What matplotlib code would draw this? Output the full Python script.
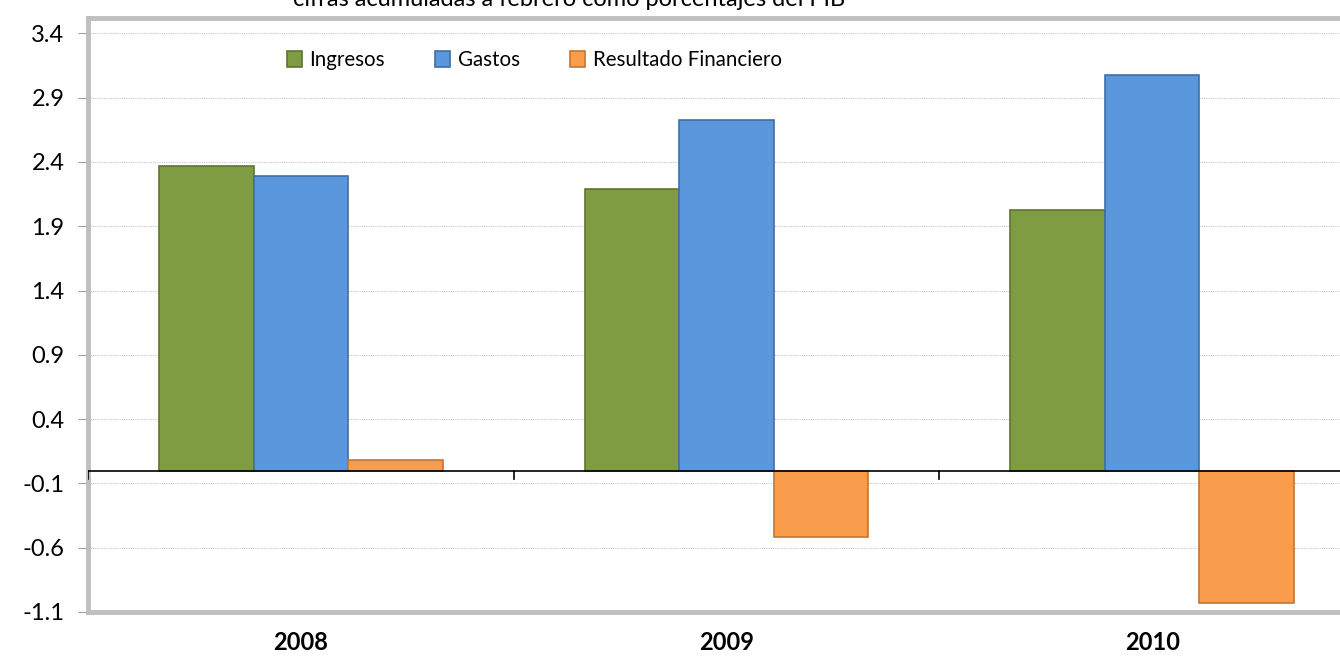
import matplotlib
matplotlib.use("Agg")
import matplotlib.pyplot as plt
import numpy as np

years = ["2008", "2009", "2010"]
ingresos = [2.37, 2.19, 2.03]
gastos = [2.29, 2.73, 3.08]
resultado = [0.08, -0.52, -1.03]
yticks = [-1.1, -0.6, -0.1, 0.4, 0.9, 1.4, 1.9, 2.4, 2.9, 3.4]

plt.rcParams["font.family"] = ["Lato", "DejaVu Sans"]

fig = plt.figure(figsize=(13.4, 6.66), dpi=100)
ax = fig.add_axes([88 / 1340, 1 - 612 / 666, 1277 / 1340, (612 - 18) / 666])

x = np.arange(len(years))
w = 0.222
series = [
    (ingresos, "Ingresos", "#7F9C42", "#5E7530"),
    (gastos, "Gastos", "#5B97DD", "#3F6FA8"),
    (resultado, "Resultado Financiero", "#F99C4B", "#C8742E"),
]
for i, (vals, name, col, edge) in enumerate(series):
    ax.bar(x + (i - 1) * w, vals, width=w, color=col, edgecolor=edge,
           linewidth=1.2, label=name, zorder=3)

ax.set_xlim(-0.5, 2.5)
ax.set_ylim(-1.1, 3.52)
ax.set_yticks(yticks)
ax.set_yticklabels([f"{v:.1f}" for v in yticks], fontsize=17)
ax.grid(axis="y", color="#C8C8C8", linestyle=(0, (1, 1)), linewidth=0.8, zorder=0)
ax.tick_params(axis="y", length=7, color="#A0A0A0", pad=10)

ax.set_xticks(x)
ax.set_xticklabels(years, fontsize=17, fontweight="bold")
ax.tick_params(axis="x", length=0, pad=14)

for side in ["left", "bottom", "top"]:
    ax.spines[side].set_color("#BFBFBF")
    ax.spines[side].set_linewidth(3.5)
ax.spines["right"].set_visible(False)

ax.axhline(0, color="black", linewidth=1.2, zorder=4)
for b in [-0.5, 0.5, 1.5]:
    ax.plot([b, b], [0, -0.065], color="black", linewidth=1.2, zorder=4)

ax.legend(loc="center left", bbox_to_anchor=(0.141, 0.929), ncol=3, frameon=False,
          fontsize=14.8, handlelength=0.75, handleheight=0.75, handletextpad=0.35,
          columnspacing=2.45)

fig.text(0.425, 1.0, "cifras acumuladas a febrero como porcentajes del PIB",
         ha="center", va="center", fontsize=17)

fig.savefig("out.png", dpi=100)
